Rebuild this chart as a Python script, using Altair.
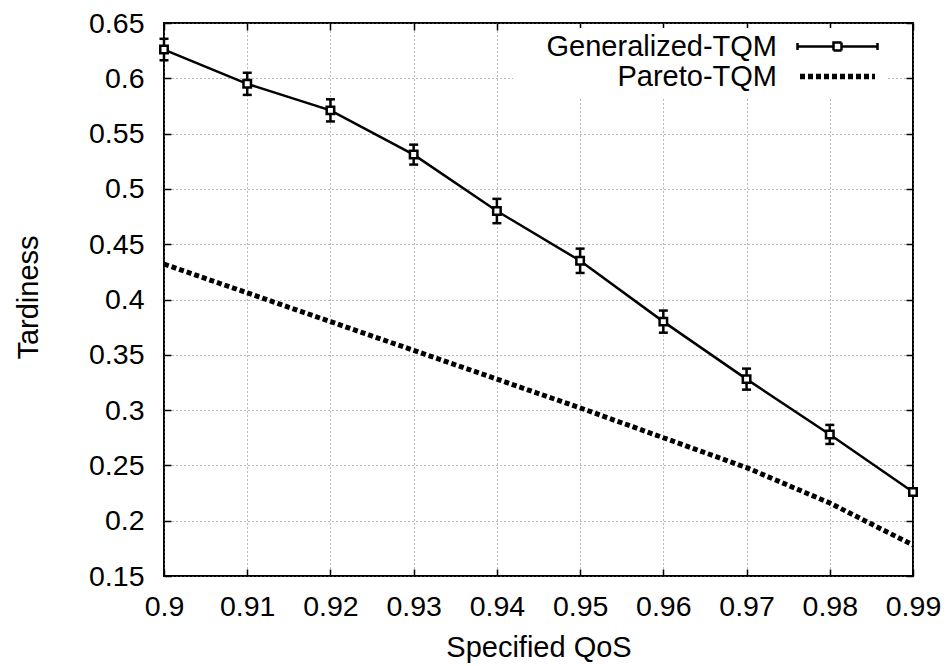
import altair as alt
import pandas as pd

qos = [0.90, 0.91, 0.92, 0.93, 0.94, 0.95, 0.96, 0.97, 0.98, 0.99]
gen_tardiness = [0.626, 0.595, 0.571, 0.531, 0.480, 0.435, 0.380, 0.328, 0.278, 0.226]
gen_error = [0.0097, 0.010, 0.010, 0.009, 0.011, 0.011, 0.010, 0.0095, 0.0086, 0.003]
pareto_tardiness = [0.432, 0.406, 0.380, 0.354, 0.328, 0.302, 0.275, 0.248, 0.216, 0.178]
series_names = ["Generalized-TQM", "Pareto-TQM"]
x_ticks = [0.90, 0.91, 0.92, 0.93, 0.94, 0.95, 0.96, 0.97, 0.98, 0.99]
y_ticks = [0.15, 0.20, 0.25, 0.30, 0.35, 0.40, 0.45, 0.50, 0.55, 0.60, 0.65]

gen_df = pd.DataFrame({
    "qos": qos,
    "t": gen_tardiness,
    "lo": [v - e for v, e in zip(gen_tardiness, gen_error)],
    "hi": [v + e for v, e in zip(gen_tardiness, gen_error)],
    "series": series_names[0],
})
par_df = pd.DataFrame({"qos": qos, "t": pareto_tardiness, "series": series_names[1]})

FONT = "Liberation Sans"
xscale = alt.Scale(domain=[0.9, 0.99], nice=False, zero=False)
yscale = alt.Scale(domain=[0.15, 0.65], nice=False, zero=False)

GRID = dict(grid=True, gridDash=[1, 3], gridColor="#707070", gridWidth=1)
INWARD = {"expr": "-7"}

x_main = alt.Axis(orient="bottom", values=x_ticks, format=".2~f", ticks=True, tickSize=INWARD,
                  tickColor="black", tickWidth=1.5,
                  domain=False, labelFont=FONT, labelFontSize=28.5, labelColor="black",
                  labelBaseline="alphabetic", labelPadding=46, labelFlush=False,
                  labelOverlap=False,
                  title="Specified QoS", titleFont=FONT, titleFontSize=29,
                  titleFontWeight="normal", titleColor="black",
                  titleBaseline="alphabetic", titleY=80, **GRID)
y_main = alt.Axis(orient="left", values=y_ticks, format=".2~f", ticks=True, tickSize=INWARD,
                  tickColor="black", tickWidth=1.5,
                  domain=False, labelFont=FONT, labelFontSize=28.5, labelColor="black",
                  labelPadding=27, labelFlush=False, labelOverlap=False,
                  title="Tardiness", titleFont=FONT, titleFontSize=29,
                  titleFontWeight="normal", titleColor="black",
                  titleBaseline="alphabetic", titleX=-127, titleY=274, titleAlign="center",
                  titleAngle=270, **GRID)


def tick_axis(orient, values):
    return alt.Axis(orient=orient, values=values, ticks=True, tickSize=INWARD,
                    tickColor="black", tickWidth=1.5, labels=False, domain=False,
                    grid=False, title=None)


gen_line = alt.Chart(gen_df).mark_line(color="black", strokeWidth=2.5).encode(
    x=alt.X("qos:Q", scale=xscale, axis=x_main),
    y=alt.Y("t:Q", scale=yscale, axis=y_main),
)

par_line = alt.Chart(par_df).mark_line(color="black", strokeWidth=5,
                                       strokeDash=[5, 3], strokeCap="butt").encode(
    x=alt.X("qos:Q", scale=xscale, axis=tick_axis("top", x_ticks)),
    y=alt.Y("t:Q", scale=yscale, axis=tick_axis("right", y_ticks)),
)

err_rule = alt.Chart(gen_df).mark_rule(color="black", strokeWidth=2.5, opacity=1).encode(
    x=alt.X("qos:Q", scale=xscale, axis=None),
    y=alt.Y("lo:Q", scale=yscale, axis=None),
    y2="hi:Q",
)

cap_lo = alt.Chart(gen_df).mark_tick(color="black", orient="horizontal", size=9,
                                     thickness=2.5, opacity=1).encode(
    x=alt.X("qos:Q", scale=xscale, axis=None),
    y=alt.Y("lo:Q", scale=yscale, axis=None),
)
cap_hi = alt.Chart(gen_df).mark_tick(color="black", orient="horizontal", size=9,
                                     thickness=2.5, opacity=1).encode(
    x=alt.X("qos:Q", scale=xscale, axis=None),
    y=alt.Y("hi:Q", scale=yscale, axis=None),
)

points = alt.Chart(gen_df).mark_point(shape="square", size=56, filled=False,
                                      color="black", fill="white", fillOpacity=1,
                                      strokeWidth=2.5, opacity=1).encode(
    x=alt.X("qos:Q", scale=xscale, axis=None),
    y=alt.Y("t:Q", scale=yscale, axis=None),
)

# legend symbol paths (gnuplot-style samples)
gen_symbol = "M-8,0H-0.8M0.8,0H8M-8,-0.7V0.7M8,-0.7V0.7M-0.8,-0.8H0.8V0.8H-0.8Z"
par_symbol = "M-7.5,-0.3H7.5M-7.5,0H7.5M-7.5,0.3H7.5"

legend_props = dict(orient="none", legendX=349, legendY=5, title=None,
                    fillColor="white", strokeColor="white", padding=4,
                    labelFont=FONT, labelFontSize=29, labelColor="black",
                    labelAlign="right", labelBaseline="middle", labelLimit=600,
                    labelOffset={"expr": "-75"}, symbolOffset=306, symbolSize=100,
                    symbolStrokeColor="black", symbolStrokeWidth=2.5,
                    symbolOpacity=1, rowPadding=0)

legend_layer = alt.Chart(pd.concat([gen_df[["qos", "t", "series"]], par_df])).mark_point(
    filled=False, color="black", strokeWidth=2.5, opacity=1).encode(
    x=alt.X("qos:Q", scale=xscale, axis=None),
    y=alt.Y("t:Q", scale=yscale, axis=None),
    shape=alt.Shape("series:N", scale=alt.Scale(domain=series_names,
                                                range=[gen_symbol, par_symbol]),
                    legend=alt.Legend(**legend_props)),
    strokeDash=alt.StrokeDash("series:N", scale=alt.Scale(domain=series_names,
                                                          range=[[1, 0], [5, 3]]),
                              legend=alt.Legend(**legend_props)),
).transform_filter("false")

chart = alt.layer(gen_line, par_line, err_rule, cap_lo, cap_hi, points, legend_layer).resolve_axis(
    x="independent", y="independent"
).properties(
    width=749, height=553,
    autosize=alt.AutoSizeParams(type="none"),
    padding={"left": 164, "top": 23, "right": 38, "bottom": 90},
    background="white",
).configure_view(stroke="black", strokeWidth=2)

chart.save("out.html", embed_options={"renderer": "svg", "actions": False})
